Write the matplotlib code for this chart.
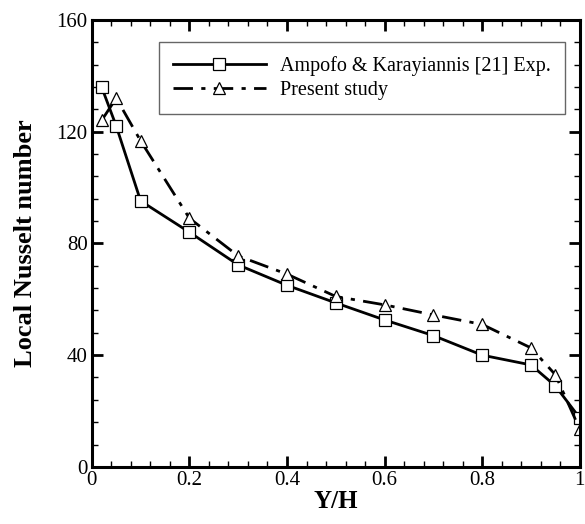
import matplotlib
matplotlib.use('Agg')
import matplotlib.pyplot as plt
from matplotlib.ticker import MultipleLocator

yh = [0.02, 0.05, 0.1, 0.2, 0.3, 0.4, 0.5, 0.6, 0.7, 0.8, 0.9, 0.95, 1.0]
nu_exp = [136, 122, 95.2, 84, 72.3, 65, 58.7, 52.6, 47, 40, 36.5, 29, 17.5]
nu_present = [124, 132, 116.7, 89, 75.5, 69, 61, 58, 54.4, 51, 42.6, 33, 13.5]

plt.rcParams['font.family'] = 'Liberation Serif'

fig = plt.figure(figsize=(5.85, 5.24), dpi=100)
ax = fig.add_axes([0.157, 0.109, 0.834, 0.853])

ax.plot(yh, nu_exp, '-', color='black', lw=2, marker='s', ms=8.5,
        mfc='white', mec='black', mew=0.9,
        label='Ampofo & Karayiannis [21] Exp.')
ax.plot(yh, nu_present, color='black', lw=2, dashes=(7, 3, 1.5, 3),
        marker='^', ms=9, mfc='white', mec='black', mew=0.9,
        label='Present study')

ax.set_xlim(0, 1)
ax.set_ylim(0, 160)
ax.xaxis.set_minor_locator(MultipleLocator(0.04))
ax.yaxis.set_major_locator(MultipleLocator(40))
ax.yaxis.set_minor_locator(MultipleLocator(8))
ax.set_xticks([0, 0.2, 0.4, 0.6, 0.8, 1.0])
ax.set_xticklabels(['0', '0.2', '0.4', '0.6', '0.8', '1'])
ax.tick_params(which='both', direction='in', top=True, right=True, labelsize=15, pad=3)
ax.tick_params(which='major', length=8, width=2)
ax.tick_params(which='minor', length=4, width=1)
for s in ax.spines.values():
    s.set_linewidth(2.2)

ax.set_xlabel('Y/H', fontsize=18, fontweight='bold', labelpad=0)
ax.set_ylabel('Local Nusselt number', fontsize=19, fontweight='bold', labelpad=14)

leg = ax.legend(loc='upper right', bbox_to_anchor=(0.99, 0.973), fontsize=14.5,
                handlelength=4.6, fancybox=False, framealpha=1, edgecolor='0.4',
                borderpad=0.7, labelspacing=0.25, handletextpad=0.7)
leg.get_frame().set_linewidth(1)

fig.savefig('out.png', dpi=100)
